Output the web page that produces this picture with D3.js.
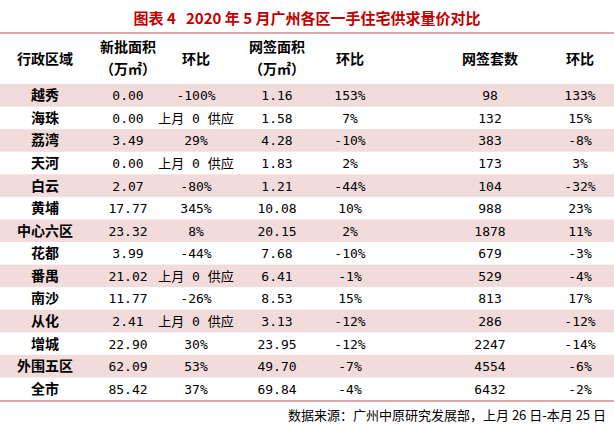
<!DOCTYPE html>
<html><head><meta charset="utf-8">
<script src="https://cdn.jsdelivr.net/npm/d3@7"></script>
<style>body{margin:0;background:#fff}text{white-space:pre}</style>
</head><body>
<svg id="c" width="614" height="432"></svg>
<script>
const districts = ['越秀','海珠','荔湾','天河','白云','黄埔','中心六区','花都','番禺','南沙','从化','增城','外围五区','全市'];
const newArea = ['0.00','0.00','3.49','0.00','2.07','17.77','23.32','3.99','21.02','11.77','2.41','22.90','62.09','85.42'];
const newMoM = ['-100%','上月 0 供应','29%','上月 0 供应','-80%','345%','8%','-44%','上月 0 供应','-26%','上月 0 供应','30%','53%','37%'];
const signArea = ['1.16','1.58','4.28','1.83','1.21','10.08','20.15','7.68','6.41','8.53','3.13','23.95','49.70','69.84'];
const signAreaMoM = ['153%','7%','-10%','2%','-44%','10%','2%','-10%','-1%','15%','-12%','-12%','-7%','-4%'];
const signUnits = ['98','132','383','173','104','988','1878','679','529','813','286','2247','4554','6432'];
const signUnitsMoM = ['133%','15%','-8%','3%','-32%','23%','11%','-3%','-4%','17%','-12%','-14%','-6%','-2%'];
const headers = [['行政区域'],['新批面积','（万㎡）'],['环比'],['网签面积','（万㎡）'],['环比'],['网签套数'],['环比']];

const svg = d3.select('#c');
const colX = [45,128,196,277,350,490,580];
const y = d3.scaleBand().domain(d3.range(districts.length)).range([84,400]);
const cjk = '"Noto Sans CJK SC", sans-serif';

svg.append('text').attr('x',307).attr('y',24).attr('text-anchor','middle')
  .attr('fill','#c00000').attr('font-family',cjk).attr('font-weight','bold').attr('font-size',15)
  .text('图表 4   2020 年 5 月广州各区一手住宅供求量价对比');
svg.append('line').attr('x1',0).attr('x2',614).attr('y1',33).attr('y2',33).attr('stroke','#c0504d');

headers.forEach((h,i)=>{
  h.forEach((t,j)=>{
    svg.append('text').attr('x',colX[i]).attr('y', h.length===1 ? 64 : 52+j*22)
      .attr('text-anchor','middle').attr('font-family',cjk).attr('font-weight','bold')
      .attr('font-size',14).attr('fill','#000').text(t);
  });
});

const rows = svg.selectAll('g.row').data(districts).join('g').attr('class','row')
  .attr('transform',(d,i)=>`translate(0,${y(i)})`);
rows.filter((d,i)=>i%2===0).append('rect').attr('width',614).attr('height',y.bandwidth()).attr('fill','#f2dcdb');
const cols = [districts,newArea,newMoM,signArea,signAreaMoM,signUnits,signUnitsMoM];
cols.forEach((arr,c)=>{
  rows.append('text').attr('x',colX[c]).attr('y',y.bandwidth()/2+5)
    .attr('text-anchor','middle').attr('font-size',c===0?14:13)
    .attr('font-family',c===0?cjk:'"DejaVu Sans Mono", "Noto Sans CJK SC", monospace')
    .attr('font-weight',c===0?'bold':'normal').attr('fill','#000')
    .text((d,i)=>arr[i]);
});
svg.append('line').attr('x1',0).attr('x2',614).attr('y1',401).attr('y2',401).attr('stroke','#c0504d');
svg.append('text').attr('x',606).attr('y',420).attr('text-anchor','end').attr('font-family',cjk)
  .attr('font-size',13).text('数据来源：广州中原研究发展部，上月 26 日-本月 25 日');
</script>
</body></html>
